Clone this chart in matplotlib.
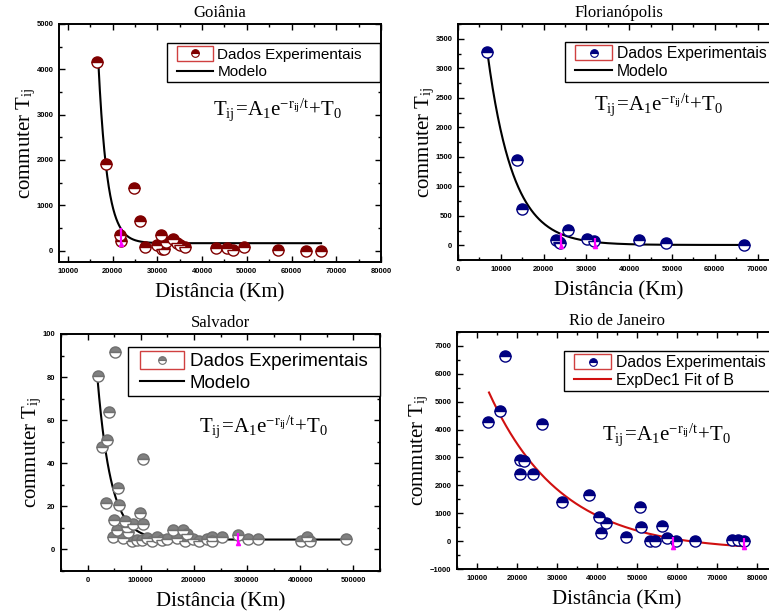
import numpy as np
import matplotlib
matplotlib.use("Agg")
import matplotlib.pyplot as plt
import matplotlib.patches as mpatches
from matplotlib.lines import Line2D
from matplotlib.legend_handler import HandlerBase
from matplotlib.ticker import MultipleLocator, AutoMinorLocator

plt.rcParams['font.family'] = ['Liberation Serif', 'DejaVu Serif']
plt.rcParams['mathtext.fontset'] = 'stix'

# --- Goiania ---
goi_dist = [16600, 18450, 24700, 26170, 21540, 21760, 27270, 29850, 30730, 30950,
            31540, 31900, 33520, 34400, 34990, 36100, 43080, 45650, 46970, 49320,
            57040, 63140, 66600]
goi_trips = [4170, 1907, 1373, 646, 349, 223, 89, 126, 349, 30,
             30, 200, 252, 178, 126, 74, 52, 52, 15, 89,
             15, 0, 0]
goi_fit = dict(x0=16800, x1=66600, y0=4150, T0=165, t=2000)
goi_mask = [(21800, 150, 500)]

# --- Florianopolis ---
flo_dist = [6770, 13770, 14940, 22880, 23500, 23900, 25680, 30120, 31830, 42400,
            48640, 66900]
flo_trips = [3280, 1445, 619, 96, 56, 40, 264, 112, 67, 84,
             39, 5]
flo_fit = dict(x0=6900, x1=66900, y0=3250, T0=5, t=6000)
flo_mask = [(24000, -20, 210), (32000, -20, 120)]

# --- Salvador ---
sal_dist = [18750, 51900, 40600, 36250, 26900, 103750, 35000, 56900, 59400, 48750,
            55000, 46900, 70600, 73750, 85000, 98750, 105000, 76900, 67500, 83100,
            92500, 101900, 111250, 120600, 130000, 139400, 148750, 161250, 168750, 178750,
            186250, 183100, 198750, 210000, 223750, 233100, 234400, 253750, 283100, 302500,
            321250, 401900, 412500, 417500, 486250]
sal_trips = [80.6, 91.6, 63.8, 50.8, 47.7, 41.8, 21.7, 28.7, 20.7, 13.8,
             8.9, 5.7, 13, 10.4, 12, 17, 11.6, 8, 5.4, 3.9,
             4.5, 4.2, 5.4, 3.9, 5.7, 4.2, 4.8, 8.9, 5.4, 8.9,
             7.3, 3.9, 5, 3.9, 4.8, 5.7, 3.9, 5.7, 6.5, 4.8,
             4.8, 3.9, 5.7, 3.9, 4.8]
sal_fit = dict(x0=18750, x1=486000, y0=79, T0=4.6, t=25500)
sal_mask = [(283000, 3, 7.5)]

# --- Rio de Janeiro ---
rio_dist = [12750, 15670, 16900, 20670, 21670, 20670, 24000, 26250, 31330, 38000,
            40420, 41080, 42170, 47330, 50830, 51080, 53170, 54580, 56250, 57580,
            59670, 64580, 73750, 75250, 76750]
rio_trips = [4280, 4650, 6650, 2910, 2890, 2410, 2400, 4200, 1410, 1650,
             880, 280, 660, 155, 1210, 515, 0, 0, 540, 96,
             0, 0, 24, 48, 0]
rio_fit = dict(x0=13000, x1=76700, y0=5330, T0=-350, t=18000)
rio_mask = [(59000, -200, 150), (76700, -200, 100)]

FORMULA = r'$\mathregular{T_{ij}\!=\!A_1e^{-r_{ij}/t}\!+\!T_0}$'

W, H = 769, 615
fig = plt.figure(figsize=(W / 100, H / 100), dpi=100)


class OriginHandler(HandlerBase):
    """legend key drawn a bit in from the frame; scatter keys get a red box"""

    def __init__(self, lead=0.45, boxed=False):
        super().__init__()
        self.lead = lead
        self.boxed = boxed

    def create_artists(self, legend, orig, xdescent, ydescent, width, height, fontsize, trans):
        x0 = -xdescent + self.lead * fontsize
        w = width - self.lead * fontsize
        y0 = -ydescent
        if self.boxed:
            rect = mpatches.Rectangle((x0, y0), w, height, facecolor='white',
                                      edgecolor='#d04040', lw=1, transform=trans)
            dot = Line2D([x0 + w / 2], [y0 + height / 2], ls='none', marker='o', ms=5.5,
                         fillstyle='top', markerfacecolor=orig.get_markerfacecolor(),
                         markerfacecoloralt='white', markeredgecolor=orig.get_markeredgecolor(),
                         markeredgewidth=0.8, transform=trans)
            return [rect, dot]
        line = Line2D([x0, x0 + w], [y0 + height / 2] * 2, color=orig.get_color(),
                      lw=1.5, transform=trans)
        return [line]


def make_axes(left, top, right, bottom):
    # pixel box -> figure fraction
    return fig.add_axes([left / W, 1 - bottom / H, (right - left) / W, (bottom - top) / H])


def panel(box, title, dist, trips, fit, mask, color, edge, xlim, ylim, xstep, ystep,
          leg_box, leg_size, fit_label, fit_color, form_xy):
    ax = make_axes(*box)
    ax.set_xlim(*xlim)
    ax.set_ylim(*ylim)

    xs = np.linspace(fit['x0'], fit['x1'], 300)
    ys = fit['T0'] + (fit['y0'] - fit['T0']) * np.exp(-(xs - fit['x0']) / fit['t'])
    fit_line, = ax.plot(xs, ys, color=fit_color, lw=1.5, zorder=2)

    pts, = ax.plot(dist, trips, ls='none', marker='o', ms=8, fillstyle='top',
                   markerfacecolor=color, markerfacecoloralt='white', markeredgecolor=edge,
                   markeredgewidth=1, zorder=3)

    for mx, lo, hi in mask:
        ax.vlines(mx, lo, hi, color='magenta', lw=1.6, zorder=4)
        ax.plot([mx], [lo], marker='^', ms=3, color='magenta', zorder=4)

    ax.set_title(title, fontsize=12, pad=5)
    ax.set_xlabel('Distância (Km)', fontsize=15, labelpad=6)
    ax.set_ylabel(r'commuter T$_{\mathregular{ij}}$', fontsize=15, labelpad=-1)

    ax.xaxis.set_major_locator(MultipleLocator(xstep))
    ax.yaxis.set_major_locator(MultipleLocator(ystep))
    ax.xaxis.set_minor_locator(AutoMinorLocator(2))
    ax.yaxis.set_minor_locator(AutoMinorLocator(2))
    ax.tick_params(which='both', direction='in', top=True, right=True, width=1)
    ax.tick_params(which='major', length=4, pad=4)
    ax.tick_params(which='minor', length=2)
    for lab in ax.get_xticklabels() + ax.get_yticklabels():
        lab.set_family('Liberation Sans')
        lab.set_fontsize(5.5)
        lab.set_fontweight('bold')
    for sp in ax.spines.values():
        sp.set_linewidth(1.4)

    leg = ax.legend([pts, fit_line], ['Dados Experimentais', fit_label],
                    handler_map={pts: OriginHandler(boxed=True), fit_line: OriginHandler()},
                    loc='upper left', bbox_to_anchor=leg_box, mode='expand', borderaxespad=0,
                    prop={'family': 'Liberation Sans', 'size': leg_size},
                    handlelength=2.8, handleheight=1.1, handletextpad=0.3,
                    labelspacing=0.12, borderpad=0.2, fancybox=False,
                    framealpha=1, edgecolor='black')
    leg.get_frame().set_linewidth(1)

    ax.text(form_xy[0], form_xy[1], FORMULA, transform=ax.transAxes,
            fontsize=15, va='baseline', ha='left')
    return ax


panel((59, 24, 381, 262), 'Goiânia', goi_dist, goi_trips, goi_fit, goi_mask,
      '#800000', '#800000', (8000, 80000), (-250, 5000), 10000, 1000,
      (0.335, 0.92, 0.662, 0), 11, 'Modelo', 'black', (0.478, 0.618))

panel((458, 24, 779, 260), 'Florianópolis', flo_dist, flo_trips, flo_fit, flo_mask,
      '#000080', '#000080', (0, 75000), (-250, 3750), 10000, 500,
      (0.333, 0.924, 0.68, 0), 11.3, 'Modelo', 'black', (0.424, 0.636))

panel((61, 334, 380, 571), 'Salvador', sal_dist, sal_trips, sal_fit, sal_mask,
      '#808080', '#707070', (-50000, 550000), (-10, 100), 100000, 20,
      (0.21, 0.945, 0.79, 0), 13.5, 'Modelo', 'black', (0.433, 0.588))

panel((457, 332, 777, 569), 'Rio de Janeiro', rio_dist, rio_trips, rio_fit, rio_mask,
      '#000080', '#000080', (5000, 85000), (-1000, 7500), 10000, 1000,
      (0.334, 0.92, 0.68, 0), 11.3, 'ExpDec1 Fit of B', '#d01010', (0.453, 0.544))

fig.savefig('out.png', dpi=100)
